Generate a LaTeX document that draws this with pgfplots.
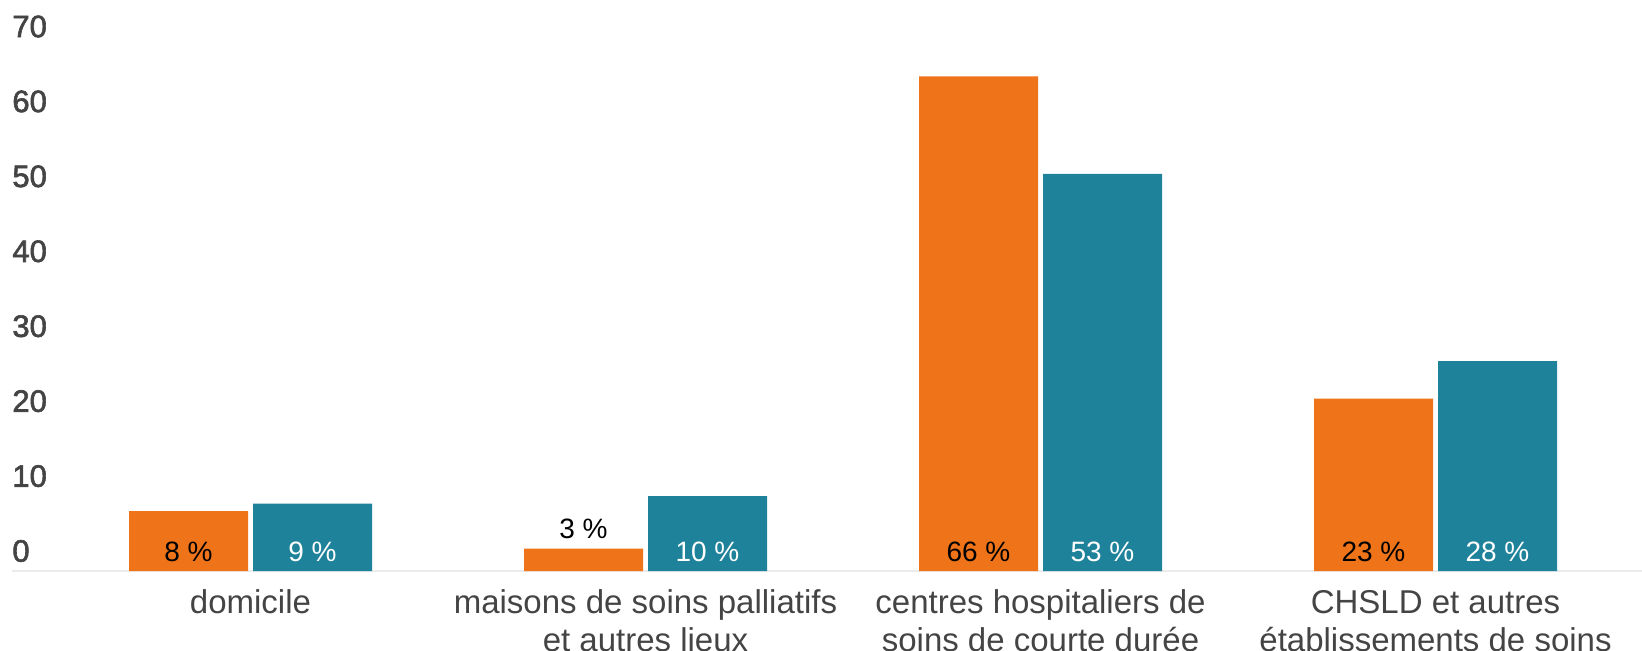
\documentclass[border=0pt]{standalone}
\usepackage{pgfplots}
\pgfplotsset{compat=1.18}
\usepackage{fontspec}
\setmainfont{Liberation Sans}
\newfontfamily\medfont[FakeBold=2]{Liberation Sans}
\definecolor{orng}{HTML}{EF7318}
\definecolor{teal2}{HTML}{1E829B}
\definecolor{txt}{HTML}{444444}
\definecolor{axl}{HTML}{EBEBEB}
\begin{document}
\begin{tikzpicture}
\begin{axis}[
  name=ax, scale only axis, width=815pt, height=262.25pt,
  xmin=-0.6038, xmax=3.5228, ymin=0, ymax=70,
  axis x line*=bottom, axis y line*=left,
  x axis line style={draw=axl, line width=1.3pt},
  y axis line style={draw=none},
  xtick={0,1,2,3},
  xticklabels={{domicile\\\mbox{}}, {maisons de soins palliatifs\\et autres lieux}, {centres hospitaliers de\\soins de courte durée}, {CHSLD et autres\\établissements de soins}},
  xtick style={draw=none}, ytick style={draw=none},
  ytick={0,10,...,70},
  /pgf/number format/assume math mode=true,
  yticklabel style={anchor=west, inner sep=0pt, yshift=10pt, font=\medfont\fontsize{15.5}{18}\selectfont, text=txt},
  xticklabel style={anchor=base, yshift=-40pt, align=center, font=\fontsize{16.5}{19}\selectfont, text=txt},
  clip=false,
]
\addplot[ybar, bar width=59.5pt, bar shift=-31pt, fill=orng, draw=none] coordinates {(0,8) (1,3) (2,66) (3,23)};
\addplot[ybar, bar width=59.5pt, bar shift=31pt, fill=teal2, draw=none] coordinates {(0,9) (1,10) (2,53) (3,28)};
\addplot[draw=none, mark=none, point meta=explicit symbolic,
  nodes near coords, nodes near coords style={anchor=base, xshift=-31pt, yshift=5pt, font=\fontsize{14}{16}\selectfont, text=black}]
  coordinates {(0,0) [8 \%] (1,3) [3 \%] (2,0) [66 \%] (3,0) [23 \%]};
\addplot[draw=none, mark=none, point meta=explicit symbolic,
  nodes near coords, nodes near coords style={anchor=base, xshift=31pt, yshift=5pt, font=\fontsize{14}{16}\selectfont, text=white}]
  coordinates {(0,0) [9 \%] (1,0) [10 \%] (2,0) [53 \%] (3,0) [28 \%]};
\end{axis}
\pgfresetboundingbox
\path[use as bounding box] ([shift={(-6pt,-39.5pt)}]ax.south west) rectangle ([shift={(815pt,285.5pt)}]ax.south west);
\end{tikzpicture}
\end{document}
